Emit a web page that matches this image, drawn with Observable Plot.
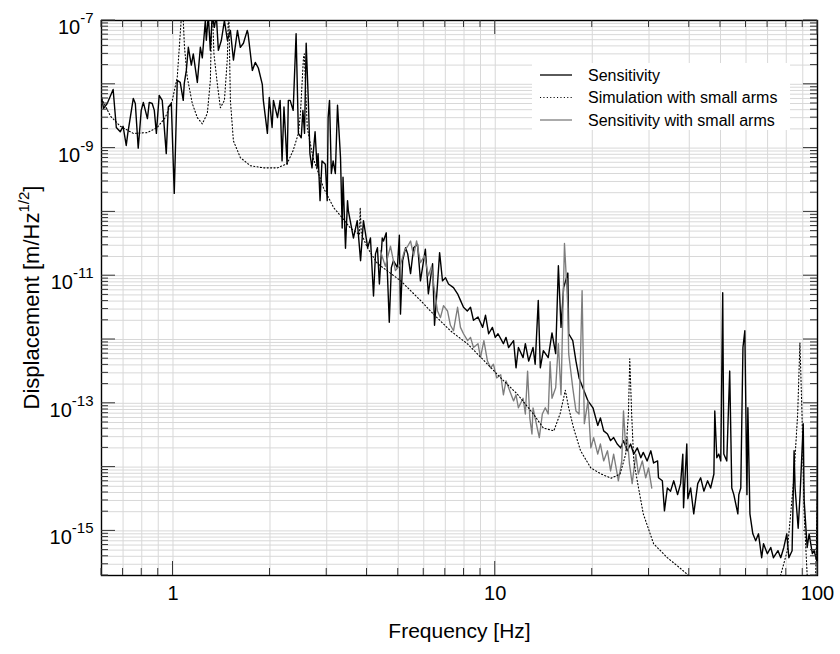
<!DOCTYPE html>
<html><head><meta charset="utf-8">
<script src="https://cdn.jsdelivr.net/npm/d3@7"></script>
<script src="https://cdn.jsdelivr.net/npm/@observablehq/plot@0.6"></script>
<style>
body{margin:0;background:#fff;font-family:"Liberation Sans",Arial,Helvetica,sans-serif;}
#wrap{position:relative;width:840px;height:654px;}
#legend{position:absolute;left:532px;top:63px;width:258px;height:67px;background:#fff;}
#legend svg{display:block;}
</style></head><body><div id="wrap"><div id="legend"></div></div>
<script>
// ---- data (frequency Hz, displacement m/Hz^1/2) ----
const sensitivity = [
[0.600,6.3e-9],[0.609,4.2e-9],[0.625,5.0e-9],[0.652,8.3e-9],[0.667,2.1e-9],[0.686,1.8e-9],[0.700,2.2e-9],[0.716,1.1e-9],[0.724,1.7e-9],[0.753,6.0e-9],
[0.764,5.0e-9],[0.780,1.0e-9],[0.797,3.9e-9],[0.809,5.2e-9],[0.833,2.9e-9],[0.844,5.2e-9],[0.862,5.0e-9],[0.875,3.9e-9],[0.888,1.7e-9],[0.906,6.7e-9],
[0.926,5.6e-9],[0.953,8.2e-10],[0.967,4.4e-9],[0.988,5.0e-9],[1.009,1.95e-10],[1.031,1.15e-8],[1.053,1.07e-8],[1.076,5.6e-9],[1.084,1.03e-8],[1.100,1.65e-8],
[1.116,3.8e-8],[1.140,2.0e-8],[1.156,3.0e-8],[1.190,1.07e-8],[1.216,3.8e-8],[1.233,2.6e-8],[1.260,1.0e-7],[1.269,4.9e-8],[1.287,1.2e-7],[1.306,3.4e-8],
[1.324,1.2e-7],[1.344,7.8e-8],[1.363,1.2e-7],[1.383,3.4e-8],[1.413,4.9e-8],[1.444,1.0e-7],[1.475,4.9e-8],[1.507,7.0e-8],[1.540,2.4e-8],[1.585,7.0e-8],
[1.618,3.8e-8],[1.654,4.4e-8],[1.700,7.0e-8],[1.710,6.2e-8],[1.763,1.65e-8],[1.800,2.2e-8],[1.840,1.8e-8],[1.893,1.0e-8],[1.907,5.6e-9],[1.963,1.7e-9],
[1.990,6.2e-9],[2.030,2.1e-9],[2.050,5.6e-9],[2.110,3.0e-9],[2.150,5.6e-9],[2.180,6.3e-10],[2.210,4.4e-9],[2.260,5.6e-10],[2.280,5.6e-9],[2.310,5.6e-9],
[2.360,3.9e-9],[2.410,6.2e-8],[2.450,1.7e-9],[2.500,1.45e-9],[2.530,3.9e-9],[2.560,1.7e-9],[2.590,4.4e-8],[2.630,5.6e-9],[2.660,8.2e-10],[2.700,4.9e-10],
[2.760,1.8e-9],[2.800,4.9e-10],[2.820,8.2e-10],[2.860,1.5e-10],[2.900,6.3e-10],[2.970,5.6e-10],[3.010,1.5e-10],[3.030,3.0e-9],[3.060,5.6e-9],[3.100,4.0e-10],
[3.140,6.3e-10],[3.190,4.0e-10],[3.240,4.7e-9],[3.310,7.1e-10],[3.350,5.6e-11],[3.370,3.5e-10],[3.430,2.7e-11],[3.480,1.5e-10],[3.50,1.05e-10],[3.63,3.9e-11],
[3.73,7.3e-11],[3.82,1.72e-11],[3.90,7.3e-11],[4.02,2.75e-11],[4.10,3.9e-11],[4.19,4.8e-12],[4.25,2.2e-11],[4.31,2.75e-11],[4.37,7.4e-12],[4.46,3.9e-11],
[4.50,3.5e-11],[4.59,4.7e-11],[4.62,1.34e-11],[4.69,1.86e-12],[4.76,1.34e-11],[4.83,1.72e-11],[4.97,1.34e-11],[5.04,4.3e-11],[5.08,2.5e-12],[5.16,1.72e-11],
[5.27,2.75e-11],[5.35,2.2e-11],[5.46,1.08e-11],[5.58,2.75e-11],[5.74,3.1e-11],[5.86,8.3e-12],[6.07,2.6e-11],[6.20,5.2e-12],[6.39,1.54e-11],[6.48,1.67e-12],
[6.62,7.4e-12],[6.72,2.3e-11],[6.86,8.3e-12],[7.01,9.3e-12],[7.16,7.4e-12],[7.42,6.5e-12],[7.64,5.2e-12],[7.80,4.1e-12],[7.97,3.2e-12],[8.19,2.8e-12],
[8.38,3.2e-12],[8.56,2.0e-12],[8.84,2.25e-12],[9.14,1.55e-12],[9.33,2.4e-12],[9.54,1.23e-12],[9.80,1.55e-12],[10.0,1.08e-12],[10.2,1.23e-12],[10.6,8.6e-13],
[10.8,1.08e-12],[11.0,7.5e-13],[11.4,9.6e-13],[11.6,3.6e-13],[11.8,7.5e-13],[12.2,5.2e-13],[12.4,8.6e-13],[12.7,4.6e-13],[13.1,7.5e-13],[13.3,4.1e-13],
[13.6,4.1e-12],[13.8,3.6e-13],[14.1,6.7e-13],[14.6,5.2e-13],[15.0,1.27e-12],[15.4,6.0e-13],[15.7,1.43e-11],[16.0,1.55e-12],[16.3,6.5e-12],[16.8,1.1e-11],
[16.9,1.23e-12],[17.4,9.6e-13],[17.8,4.6e-13],[18.2,2.5e-13],[18.7,1.75e-13],[19.4,1.09e-13],[20.1,8.5e-14],[20.8,4.5e-14],[21.2,5.9e-14],[21.7,3.7e-14],
[22.3,3.3e-14],[22.8,2.6e-14],[23.3,2.9e-14],[23.9,2.3e-14],[24.5,2.0e-14],[25.0,2.6e-14],[25.7,1.8e-14],[26.3,2.3e-14],[26.9,1.6e-14],[27.6,2.0e-14],
[28.3,1.4e-14],[28.8,1.7e-14],[29.6,1.25e-14],[30.4,1.8e-14],[31.0,1.16e-14],[31.9,1.25e-14],[32.1,6.8e-15],[33.0,6.1e-15],[33.5,2.06e-15],[34.2,4.7e-15],
[35.0,4.2e-15],[35.8,6.1e-15],[36.8,3.7e-15],[37.6,5.5e-15],[38.2,1.6e-14],[38.4,2.3e-15],[39.3,2.3e-14],[39.6,3.2e-15],[40.4,4.7e-15],[41.3,1.85e-15],
[42.5,5.5e-15],[43.4,6.8e-15],[44.4,4.2e-15],[45.6,6.1e-15],[46.6,4.7e-15],[47.7,7.8e-15],[48.0,7.6e-14],[48.7,1.4e-14],[49.4,1.6e-14],[50.1,1.25e-14],
[50.8,5.4e-12],[51.2,1.6e-14],[52.3,1.25e-14],[53.4,3.2e-13],[54.2,4.7e-15],[55.0,3.7e-15],[56.6,1.85e-15],[57.0,3.7e-15],[57.8,4.7e-15],[58.7,7.5e-13],
[59.5,1.37e-12],[60.4,3.7e-15],[60.8,8.5e-14],[61.7,1.85e-15],[63.0,9.0e-16],[64.3,7.0e-16],[65.6,9.0e-16],[67.1,3.8e-16],[68.0,6.3e-16],[69.9,4.4e-16],
[71.6,5.5e-16],[73.0,3.8e-16],[75.4,4.9e-16],[76.9,3.8e-16],[78.6,5.5e-16],[80.3,9.0e-16],[81.5,3.8e-16],[83.4,4.9e-16],[84.6,1.8e-14],[85.2,4.7e-15],
[87.1,1.1e-15],[88.3,3.7e-15],[90.3,4.8e-14],[90.9,3.0e-15],[92.9,5.5e-16],[94.2,9.0e-16],[96.4,4.4e-16],[97.6,4.9e-16],[99.5,3.4e-16],[100,6.0e-14]
];
const simulation = [
[0.600,6.0e-9],[0.639,3.2e-9],[0.686,2.2e-9],[0.753,1.7e-9],[0.833,1.75e-9],[0.893,2.1e-9],[0.946,3.0e-9],[0.995,5.6e-9],[1.031,1.3e-8],[1.053,6.2e-8],
[1.070,2.0e-7],[1.085,4.0e-8],[1.107,1.3e-8],[1.148,5.0e-9],[1.190,3.0e-9],[1.233,2.4e-9],[1.278,3.5e-9],[1.306,1.15e-8],[1.322,2.0e-7],[1.340,3.0e-8],
[1.373,1.0e-8],[1.403,4.3e-9],[1.444,5.6e-9],[1.475,2.6e-8],[1.488,2.0e-7],[1.507,5.6e-9],[1.540,1.3e-9],[1.618,7.1e-10],[1.738,5.3e-10],[1.907,4.9e-10],
[2.110,4.9e-10],[2.260,5.7e-10],[2.360,9.2e-10],[2.450,1.7e-9],[2.486,3.5e-9],[2.540,2.6e-8],[2.555,3.0e-8],[2.610,2.1e-9],[2.720,7.1e-10],[2.930,2.4e-10],
[3.150,1.17e-10],[3.350,8.1e-11],[3.550,5.6e-11],[3.790,4.4e-11],[3.810,1.17e-10],[3.840,4.6e-11],[4.010,2.75e-11],[4.310,1.55e-11],[5.090,8.3e-12],[5.860,4.1e-12],
[6.430,2.5e-12],[7.260,1.37e-12],[8.210,8.5e-13],[9.220,4.7e-13],[10.40,2.5e-13],[11.70,1.4e-13],[13.10,6.9e-14],[14.10,4.1e-14],[15.20,3.7e-14],[15.90,6.9e-14],
[16.50,1.6e-13],[16.90,8.5e-14],[17.50,4.1e-14],[18.40,1.8e-14],[19.80,9.7e-15],[21.30,7.8e-15],[22.90,6.7e-15],[24.40,7.8e-15],[25.40,1.6e-14],[25.90,6.9e-14],
[26.15,5.0e-13],[26.50,6.9e-14],[26.90,1.26e-14],[27.60,6.0e-15],[28.80,1.85e-15],[31.00,6.3e-16],[34.20,3.8e-16],[37.50,2.6e-16],[39.80,2.0e-16],[41.90,1.4e-16],
[50.00,6.0e-17],[65.00,8.0e-17],[76.80,2.0e-16],[80.60,4.9e-16],[84.30,6.0e-15],[86.80,6.9e-14],[88.20,8.9e-13],[89.50,6.9e-14],[90.90,1.85e-15],[92.90,2.0e-16],
[94.40,1.2e-16],[98.70,2.0e-16],[100.0,3.8e-15]
];
const smallArms = [
[4.40,2.47e-11],[4.56,1.4e-11],[4.73,2.9e-11],[4.90,1.2e-11],[5.08,1.5e-11],[5.23,2.47e-11],[5.35,2.9e-11],[5.46,3.5e-11],[5.58,2.05e-11],[5.70,3.5e-11],
[5.86,1.6e-11],[6.03,2.05e-11],[6.20,1.0e-11],[6.34,1.4e-11],[6.48,5.8e-12],[6.62,2.8e-12],[6.76,2.2e-12],[6.91,3.4e-12],[7.11,2.8e-12],[7.26,1.67e-12],
[7.42,1.37e-12],[7.64,3.2e-12],[7.80,1.55e-12],[7.97,1.23e-12],[8.21,9.6e-13],[8.38,1.08e-12],[8.56,7.5e-13],[8.84,8.6e-13],[9.00,5.2e-13],[9.22,9.6e-13],
[9.46,4.6e-13],[9.67,3.6e-13],[9.87,4.1e-13],[10.1,2.5e-13],[10.4,2.8e-13],[10.6,1.36e-13],[10.8,2.25e-13],[11.0,1.75e-13],[11.4,1.09e-13],[11.6,1.36e-13],
[11.8,8.5e-14],[12.2,1.2e-13],[12.4,6.8e-14],[12.6,3.2e-13],[12.8,5.9e-14],[13.0,3.3e-14],[13.1,8.5e-14],[13.5,4.1e-14],[13.7,2.9e-14],[14.0,6.8e-14],
[14.3,8.5e-14],[14.6,6.8e-14],[14.8,4.5e-13],[15.0,1.2e-13],[15.4,1.75e-13],[15.7,8.6e-13],[16.0,1.36e-13],[16.2,2.25e-12],[16.4,3.2e-11],[16.8,3.2e-12],
[16.9,6.0e-13],[17.4,1.75e-13],[17.8,7.6e-14],[18.2,6.8e-14],[18.6,5.8e-12],[18.9,4.8e-14],[19.4,1.09e-13],[19.8,2.0e-14],[20.2,2.9e-14],[20.8,1.6e-14],
[21.2,2.3e-14],[21.7,1.25e-14],[22.3,1.8e-14],[22.8,8.7e-15],[23.3,1.6e-14],[23.9,7.8e-15],[24.1,6.1e-15],[24.7,1.25e-14],[25.0,7.6e-14],[25.4,2.0e-14],
[25.7,2.9e-14],[26.1,1.1e-14],[26.6,5.5e-15],[27.3,1.6e-14],[27.8,7.8e-15],[28.6,1.25e-14],[29.3,6.8e-15],[29.9,9.7e-15],[30.6,4.7e-15]
];
const seriesNames = ["Sensitivity", "Simulation with small arms", "Sensitivity with small arms"];
const xDomain = [0.6, 100];
const yDomain = [2e-16, 1e-7];
const xTickLabels = [1, 10, 100];
const yTickLabels = [1e-7, 1e-9, 1e-11, 1e-13, 1e-15];
const xTitle = "Frequency [Hz]";
const yTitle = ["Displacement [m/Hz", "1/2", "]"];

const rows = a => a.map(([f, v]) => ({f, v}));
const xGrid = d3.scaleLog().domain(xDomain).ticks();
const yGrid = d3.scaleLog().domain(yDomain).ticks();
const FONT = '"Liberation Sans", Arial, Helvetica, sans-serif';

const chart = Plot.plot({
  width: 840, height: 654,
  marginLeft: 101, marginRight: 23, marginTop: 20, marginBottom: 79,
  style: {fontFamily: FONT, fontSize: "20px", background: "#fff", color: "#000", overflow: "visible"},
  x: {type: "log", domain: xDomain},
  y: {type: "log", domain: yDomain},
  marks: [
    Plot.ruleX(xGrid, {stroke: "#d8d8d8", strokeWidth: 1}),
    Plot.ruleY(yGrid, {stroke: "#d8d8d8", strokeWidth: 1}),
    Plot.line(rows(sensitivity), {x: "f", y: "v", stroke: "#000", strokeWidth: 1.4, clip: true}),
    Plot.line(rows(smallArms), {x: "f", y: "v", stroke: "#7d7d7d", strokeWidth: 1.35, clip: true}),
    Plot.line(rows(simulation), {x: "f", y: "v", stroke: "#000", strokeWidth: 1.1, strokeDasharray: "1.1,2.3", clip: true}),
    Plot.frame({stroke: "#000", strokeWidth: 1.4}),
    Plot.axisX({ticks: xTickLabels, tickSize: 0, tickPadding: 10, tickFormat: d => String(d), label: null}),
    Plot.axisY({ticks: yTickLabels, tickSize: 0, tickPadding: 8, dy: 7, tickFormat: () => "10", label: null}),
    Plot.text([xTitle], {text: d => d, frameAnchor: "bottom", dy: 62, fontSize: 21})
  ]
});
document.getElementById("wrap").prepend(chart);

const svg = d3.select(chart);
// tick label font size
svg.selectAll('g[aria-label="x-axis tick label"], g[aria-label="y-axis tick label"]')
  .attr("font-size", 20).style("font-size", "20px").attr("font-family", FONT).attr("fill", "#000");
svg.selectAll('g[aria-label="x-axis tick label"] text, g[aria-label="y-axis tick label"] text')
  .style("font-size", "20px");
// superscript exponents on y tick labels
svg.selectAll('g[aria-label="y-axis tick label"] text').each(function(d, i) {
  const exp = Math.round(Math.log10(yTickLabels[i]));
  d3.select(this).append("tspan").attr("dy", -11).style("font-size", "15px").text(String(exp));
});

// inward tick marks on the frame, from Plot's scales
const xs = chart.scale("x"), ys = chart.scale("y");
const [L, R] = xs.range, [B, T] = ys.range;
const tg = svg.append("g").attr("stroke", "#333").attr("stroke-width", 1);
const isDecade = v => Math.abs(Math.log10(v) - Math.round(Math.log10(v))) < 1e-6;
xGrid.forEach(v => {
  const x = xs.apply(v), len = isDecade(v) ? 14 : 7;
  tg.append("line").attr("x1", x).attr("x2", x).attr("y1", B).attr("y2", B - len);
  tg.append("line").attr("x1", x).attr("x2", x).attr("y1", T).attr("y2", T + len);
});
yGrid.forEach(v => {
  const y = ys.apply(v), len = isDecade(v) ? 14 : 7;
  tg.append("line").attr("y1", y).attr("y2", y).attr("x1", L).attr("x2", L + len);
  tg.append("line").attr("y1", y).attr("y2", y).attr("x1", R).attr("x2", R - len);
});

// y axis title with superscript
const yt = svg.append("text").attr("transform", `translate(39,${(T + B) / 2}) rotate(-90)`)
  .attr("text-anchor", "middle").attr("font-family", FONT).style("font-size", "22px").attr("fill", "#000");
yt.append("tspan").text(yTitle[0]);
yt.append("tspan").attr("dy", -10).style("font-size", "15px").text(yTitle[1]);
yt.append("tspan").attr("dy", 10).text(yTitle[2]);

// legend
const styles = [
  {stroke: "#000", dash: null, w: 1.3},
  {stroke: "#000", dash: "1.1,2.3", w: 1.1},
  {stroke: "#7d7d7d", dash: null, w: 1.3}
];
const lg = d3.select("#legend").append("svg").attr("width", 258).attr("height", 67);
seriesNames.forEach((name, i) => {
  const y = 12 + i * 22.5;
  lg.append("line").attr("x1", 8).attr("x2", 40).attr("y1", y).attr("y2", y)
    .attr("stroke", styles[i].stroke).attr("stroke-width", styles[i].w)
    .attr("stroke-dasharray", styles[i].dash);
  lg.append("text").attr("x", 56).attr("y", y).attr("dy", "0.35em")
    .attr("font-family", FONT).style("font-size", "16px").attr("fill", "#000").text(name);
});
</script>
</body></html>
